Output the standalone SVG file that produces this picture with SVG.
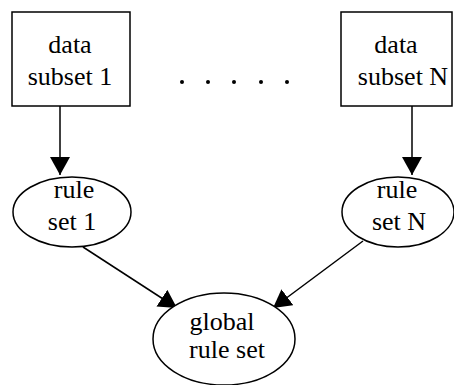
<svg xmlns="http://www.w3.org/2000/svg" width="454" height="385" viewBox="0 0 454 385">
<style>
.n{fill:#fff;stroke:#000;stroke-width:1.5}
.t{font-family:"Liberation Serif",serif;font-size:26px;fill:#000;text-anchor:middle}
.e{stroke:#000;stroke-width:1.5;fill:none;marker-end:url(#ah)}
</style>
<defs>
<marker id="ah" markerUnits="userSpaceOnUse" markerWidth="20" markerHeight="20" refX="18" refY="10" orient="auto">
<path d="M0,0 L18,10 L0,20 Z" fill="#000"/>
</marker>
</defs>
<g id="edges">
<line class="e" x1="60" y1="106" x2="60" y2="175"/>
<line class="e" x1="412" y1="106" x2="412" y2="175"/>
<line class="e" x1="83" y1="247" x2="177" y2="308"/>
<line class="e" x1="363" y1="241" x2="273" y2="308"/>
</g>
<g id="data1">
<rect class="n" x="12" y="12" width="118" height="94"/>
<text class="t" x="70" y="53">data</text>
<text class="t" x="70" y="85">subset 1</text>
</g>
<g id="dataN">
<rect class="n" x="341" y="12" width="111" height="94"/>
<text class="t" x="396" y="53">data</text>
<text class="t" x="403" y="85">subset N</text>
</g>
<g id="dots">
<circle cx="182" cy="82" r="2"/>
<circle cx="208" cy="82" r="2"/>
<circle cx="234" cy="82" r="2"/>
<circle cx="261" cy="82" r="2"/>
<circle cx="287" cy="82" r="2"/>
</g>
<g id="rule1">
<ellipse class="n" cx="72" cy="212" rx="59" ry="35"/>
<text class="t" x="74" y="198">rule</text>
<text class="t" x="72" y="230">set 1</text>
</g>
<g id="ruleN">
<ellipse class="n" cx="398" cy="212" rx="56" ry="35"/>
<text class="t" x="397" y="198">rule</text>
<text class="t" x="399" y="230">set N</text>
</g>
<g id="global">
<ellipse class="n" cx="224" cy="339" rx="71" ry="46"/>
<text class="t" x="222" y="330">global</text>
<text class="t" x="227" y="358">rule set</text>
</g>
</svg>
